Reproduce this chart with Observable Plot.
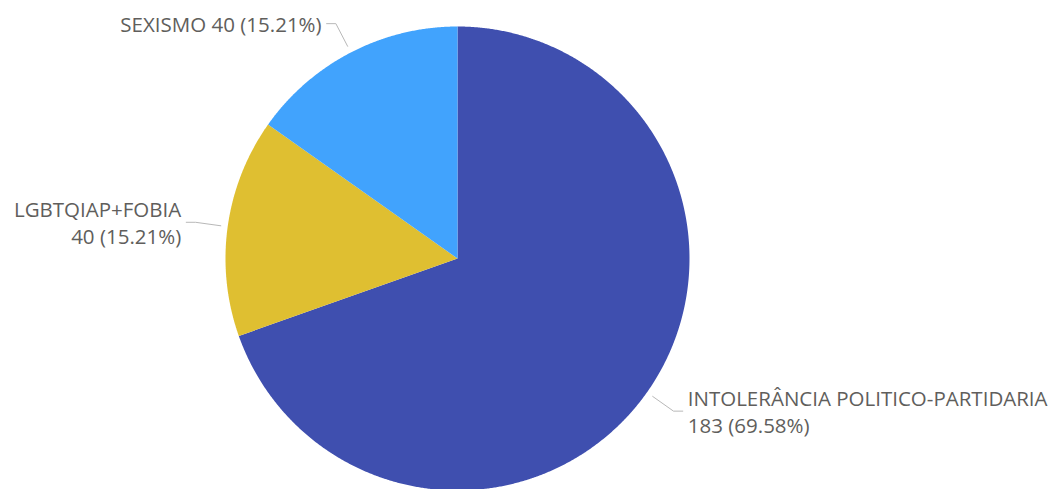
<!DOCTYPE html>
<html>
<head>
<meta charset="utf-8">
<script src="https://cdn.jsdelivr.net/npm/d3@7"></script>
<script src="https://cdn.jsdelivr.net/npm/@observablehq/plot@0.6"></script>
<style>
  html, body { margin: 0; padding: 0; background: #ffffff; }
  #chart { width: 1055px; height: 489px; overflow: hidden; }
</style>
</head>
<body>
<div id="chart"></div>
<script>
// ---- data ----
const categories = ["INTOLERÂNCIA POLITICO-PARTIDARIA", "LGBTQIAP+FOBIA", "SEXISMO"];
const counts = [183, 40, 40];
const colors = ["#3f4faf", "#dfbf31", "#41a3fd"];

// ---- geometry ----
const total = d3.sum(counts);
const pie = d3.pie().sort(null).value(d => d)(counts);

const slicePts = [];
pie.forEach((p, i) => {
  const cat = categories[i];
  slicePts.push({cat, x: 0, y: 0});
  const n = Math.max(2, Math.ceil((p.endAngle - p.startAngle) / 0.005));
  for (let k = 0; k <= n; k++) {
    const a = p.startAngle + (p.endAngle - p.startAngle) * k / n;
    slicePts.push({cat, x: Math.sin(a), y: Math.cos(a)});
  }
});

const leaderPts = [];
const labels = [];
pie.forEach((p, i) => {
  const cat = categories[i];
  const a = (p.startAngle + p.endAngle) / 2;
  const side = Math.sin(a) >= 0 ? 1 : -1;
  const ex = 1.14 * Math.sin(a), ey = 1.14 * Math.cos(a);
  leaderPts.push({cat, x: 1.03 * Math.sin(a), y: 1.03 * Math.cos(a)});
  leaderPts.push({cat, x: ex, y: ey});
  leaderPts.push({cat, x: ex + side * 0.04, y: ey});
  const pct = (100 * counts[i] / total).toFixed(2) + "%";
  const val = `${counts[i]} (${pct})`;
  const text = cat === "SEXISMO" ? `${cat} ${val}` : `${cat}\n${val}`;
  labels.push({cat, x: ex + side * 0.04, y: ey, text, side});
});

const R = 232, cx = 457, cy = 258, W = 1055, H = 489;

const chart = Plot.plot({
  width: W,
  height: H,
  margin: 0,
  x: {domain: [-cx / R, (W - cx) / R], range: [0, W], axis: null},
  y: {domain: [-(H - cy) / R, cy / R], range: [H, 0], axis: null},
  color: {domain: categories, range: colors},
  style: {fontFamily: "'Open Sans', sans-serif", background: "#ffffff"},
  marks: [
    Plot.line(slicePts, {x: "x", y: "y", z: "cat", fill: "cat", stroke: "none", curve: "linear-closed"}),
    Plot.line(leaderPts, {x: "x", y: "y", z: "cat", stroke: "#b8b8b8", strokeWidth: 1}),
    Plot.text(labels.filter(d => d.side > 0), {x: "x", y: "y", text: "text", textAnchor: "start", dx: 5, lineAnchor: "middle", lineHeight: 1.32, fontSize: 20.5, fill: "#605e5c"}),
    Plot.text(labels.filter(d => d.side < 0), {x: "x", y: "y", text: "text", textAnchor: "end", dx: -5, lineAnchor: "middle", lineHeight: 1.32, fontSize: 20.5, fill: "#605e5c"})
  ]
});
document.getElementById("chart").appendChild(chart);
</script>
</body>
</html>
